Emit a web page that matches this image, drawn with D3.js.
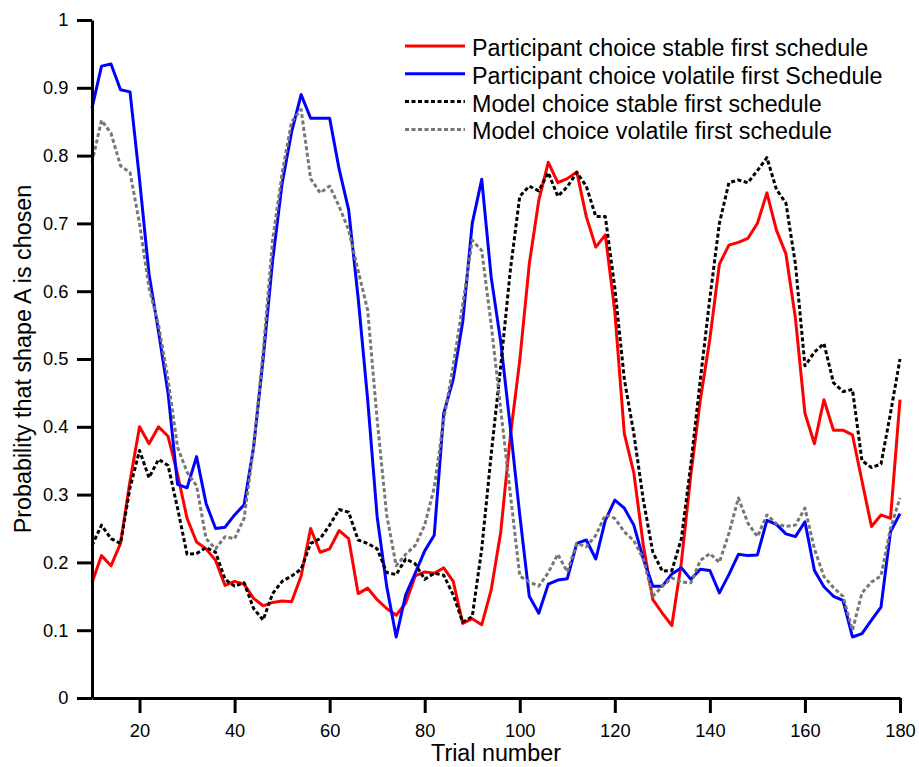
<!DOCTYPE html>
<html>
<head>
<meta charset="utf-8">
<script src="https://cdn.jsdelivr.net/npm/d3@7"></script>
<style>
  html, body { margin: 0; padding: 0; background: #fff; }
  svg { display: block; }
  text { font-family: "Liberation Sans", Arial, Helvetica, sans-serif; fill: #000; }
</style>
</head>
<body>
<svg id="chart" width="919" height="767"></svg>
<script>
// ---- Data ----
const trials = [10,12,14,16,18,20,22,24,26,28,30,32,34,36,38,40,42,44,46,48,
  50,52,54,56,58,60,62,64,66,68,70,72,74,76,78,80,82,84,86,88,
  90,92,94,96,98,100,102,104,106,108,110,112,114,116,118,120,122,124,126,128,
  130,132,134,136,138,140,142,144,146,148,150,152,154,156,158,160,162,164,166,168,
  170,172,174,176,178,180];

const participantStableFirst = [0.17,0.21,0.195,0.228,0.32,0.40,0.375,0.40,0.386,0.33,
  0.265,0.23,0.22,0.203,0.166,0.172,0.168,0.147,0.136,0.141,
  0.143,0.142,0.18,0.25,0.215,0.22,0.247,0.235,0.154,0.162,
  0.145,0.132,0.122,0.14,0.18,0.186,0.184,0.192,0.172,0.11,
  0.117,0.108,0.16,0.245,0.385,0.498,0.64,0.734,0.79,0.76,
  0.766,0.776,0.71,0.665,0.683,0.57,0.39,0.332,0.225,0.145,
  0.125,0.107,0.20,0.33,0.44,0.53,0.64,0.668,0.672,0.678,
  0.70,0.745,0.69,0.655,0.56,0.42,0.375,0.44,0.395,0.395,
  0.388,0.32,0.253,0.27,0.265,0.44];

const participantVolatileFirst = [0.87,0.932,0.935,0.897,0.894,0.765,0.625,0.54,0.45,0.315,
  0.31,0.356,0.287,0.25,0.252,0.27,0.285,0.37,0.50,0.645,
  0.759,0.835,0.89,0.855,0.855,0.855,0.78,0.72,0.59,0.44,
  0.267,0.165,0.09,0.152,0.184,0.217,0.24,0.42,0.47,0.555,
  0.70,0.765,0.62,0.525,0.40,0.27,0.15,0.125,0.168,0.174,
  0.176,0.228,0.233,0.205,0.262,0.292,0.28,0.255,0.205,0.165,
  0.165,0.183,0.192,0.175,0.19,0.188,0.155,0.182,0.212,0.21,
  0.211,0.262,0.256,0.242,0.238,0.26,0.188,0.164,0.15,0.144,
  0.09,0.095,0.115,0.134,0.245,0.272];

const modelStableFirst = [0.225,0.255,0.235,0.228,0.31,0.365,0.325,0.352,0.343,0.28,
  0.212,0.213,0.222,0.215,0.175,0.165,0.17,0.132,0.115,0.154,
  0.172,0.18,0.19,0.228,0.235,0.255,0.278,0.274,0.233,0.228,
  0.22,0.185,0.182,0.205,0.198,0.175,0.184,0.181,0.152,0.112,
  0.12,0.22,0.36,0.49,0.63,0.74,0.755,0.748,0.775,0.74,
  0.754,0.775,0.755,0.71,0.71,0.605,0.47,0.39,0.292,0.215,
  0.187,0.188,0.235,0.345,0.47,0.59,0.70,0.76,0.764,0.76,
  0.778,0.797,0.75,0.73,0.64,0.49,0.51,0.523,0.465,0.452,
  0.455,0.35,0.34,0.345,0.42,0.50];

const modelVolatileFirst = [0.79,0.852,0.833,0.785,0.775,0.70,0.605,0.55,0.47,0.37,
  0.333,0.313,0.235,0.22,0.238,0.235,0.265,0.37,0.51,0.675,
  0.774,0.85,0.868,0.766,0.745,0.755,0.725,0.69,0.63,0.572,
  0.41,0.27,0.195,0.212,0.225,0.255,0.31,0.41,0.49,0.58,
  0.675,0.66,0.55,0.425,0.302,0.18,0.171,0.165,0.185,0.212,
  0.186,0.228,0.223,0.24,0.27,0.265,0.245,0.232,0.205,0.15,
  0.165,0.177,0.171,0.17,0.203,0.213,0.20,0.243,0.295,0.258,
  0.238,0.27,0.257,0.253,0.255,0.28,0.22,0.179,0.163,0.15,
  0.10,0.155,0.171,0.18,0.25,0.295];

const seriesNames = [
  "Participant choice stable first schedule",
  "Participant choice volatile first Schedule",
  "Model choice stable first schedule",
  "Model choice volatile first schedule"
];
const xTickValues = [20,40,60,80,100,120,140,160,180];
const yTickValues = [0,0.1,0.2,0.3,0.4,0.5,0.6,0.7,0.8,0.9,1];
const xTitle = "Trial number";
const yTitle = "Probability that shape A is chosen";

// ---- Styles ----
const seriesValues = [participantStableFirst, participantVolatileFirst, modelStableFirst, modelVolatileFirst];
const colors = ["#ff0000", "#0000ff", "#000000", "#777777"];
const dashes = [null, null, "4,2.5", "4,2.5"];

const svg = d3.select("#chart");
const x = d3.scaleLinear().domain([10, 180]).range([92, 900]);
const y = d3.scaleLinear().domain([0, 1]).range([698, 20]);

// Lines
const line = d3.line().x((d, i) => x(trials[i])).y(d => y(d));
seriesValues.forEach((vals, k) => {
  svg.append("path")
    .datum(vals)
    .attr("d", line)
    .attr("fill", "none")
    .attr("stroke", colors[k])
    .attr("stroke-width", 3)
    .attr("stroke-linejoin", "round")
    .attr("stroke-dasharray", dashes[k]);
});

// Axes
const fmtY = d => (d === 0 ? "0" : d === 1 ? "1" : d3.format(".1f")(d));
const xAxis = svg.append("g")
  .attr("transform", `translate(0,${y(0)})`)
  .call(d3.axisBottom(x).tickValues(xTickValues).tickSize(15).tickSizeOuter(0).tickPadding(11.5));
const yAxis = svg.append("g")
  .attr("transform", `translate(${x(10)},0)`)
  .call(d3.axisLeft(y).tickValues(yTickValues).tickFormat(fmtY).tickSize(15).tickSizeOuter(0).tickPadding(8.7));

[xAxis, yAxis].forEach(g => {
  g.selectAll("path.domain").attr("stroke", "#000").attr("stroke-width", 3);
  g.selectAll(".tick line").attr("stroke", "#000").attr("stroke-width", 3);
  g.selectAll(".tick text")
    .attr("fill", "#000")
    .style("font-family", '"Liberation Sans", Arial, sans-serif')
    .style("font-size", "18.3px");
});

// Axis titles
svg.append("text")
  .attr("x", 496).attr("y", 761)
  .attr("text-anchor", "middle")
  .style("font-size", "23.3px")
  .text(xTitle);

svg.append("text")
  .attr("transform", `translate(31,${(y(0) + y(1)) / 2}) rotate(-90)`)
  .attr("text-anchor", "middle")
  .style("font-size", "23.3px")
  .text(yTitle);

// Legend
const legend = svg.append("g");
seriesNames.forEach((name, k) => {
  const ly = 46 + k * 27.8;
  legend.append("line")
    .attr("x1", 405).attr("x2", 465)
    .attr("y1", ly).attr("y2", ly)
    .attr("stroke", colors[k])
    .attr("stroke-width", 3)
    .attr("stroke-dasharray", dashes[k]);
  legend.append("text")
    .attr("x", 472).attr("y", ly + 10)
    .style("font-size", "23.3px")
    .text(name);
});
</script>
</body>
</html>
